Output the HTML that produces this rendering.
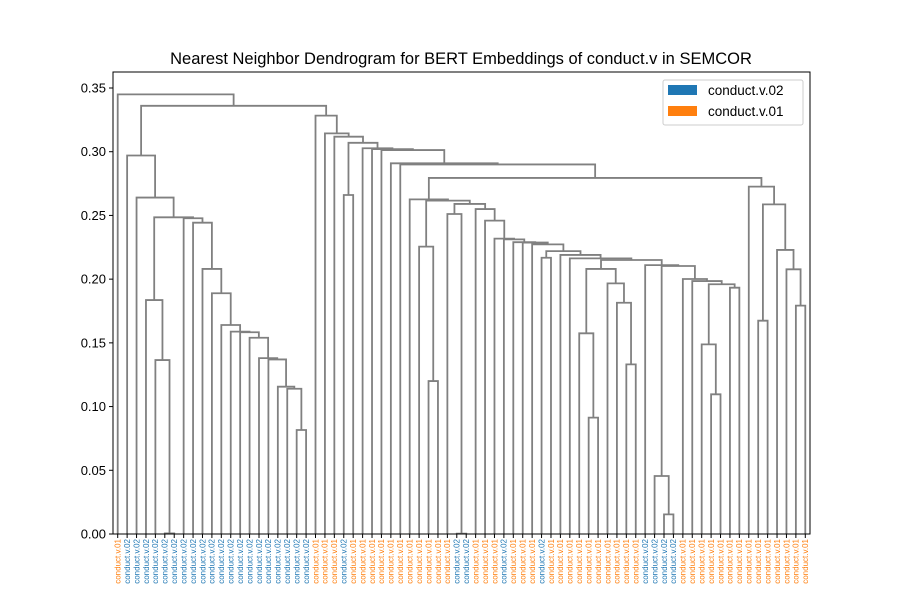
<!DOCTYPE html>
<html><head><meta charset="utf-8"><style>
html,body{margin:0;padding:0;background:#fff;}
svg{display:block;font-family:"Liberation Sans","DejaVu Sans",sans-serif;}
</style></head><body>
<svg id="chart" width="900" height="600" viewBox="0 0 900 600" xmlns="http://www.w3.org/2000/svg">
<rect x="0" y="0" width="900" height="600" fill="#fff"/>
<text x="461" y="64" text-anchor="middle" font-size="16.5" fill="#000">Nearest Neighbor Dendrogram for BERT Embeddings of conduct.v in SEMCOR</text>
<g id="links"></g>
<g id="yaxis"></g>
<g id="xlabels"></g>
<rect x="113" y="72" width="697" height="462" fill="none" stroke="#000" stroke-width="1"/>
<g>
<rect x="663" y="80" width="140" height="45" rx="2" fill="#fff" stroke="#ccc" stroke-width="1"/>
<g>
<rect x="668" y="85" width="29" height="10" fill="#1f77b4"/>
<text x="708" y="95" font-size="13.5" fill="#000">conduct.v.02</text></g>
<g>
<rect x="668" y="106" width="29" height="10" fill="#ff7f0e"/>
<text x="708" y="116" font-size="13.5" fill="#000">conduct.v.01</text></g>
</g>
</svg>
<script>
const senses = ["01","02","02","02","02","02","02","02","02","02","02","02","02","02","02","02","02","02","02","02","02",
"01","01","01","02","01","01","01","01","01","01","01","01","01","01","01","02","02","01","01","01","02",
"01","01","01","02","01","01","01","01","01","01","01","01","01","01","02","02","02","02",
"01","01","01","01","01","01","01","01","01","01","01","01","01","01"];
const yTicks = [0,0.05,0.10,0.15,0.20,0.25,0.30,0.35];
const links = [
["G",5,6,0.0005],["F",4,"G",0.1365],["E",3,"F",0.1836],
["T",19,20,0.0816],["S",18,"T",0.114],["R",17,"S",0.1156],["Q",16,"R",0.137],["P",15,"Q",0.138],
["O",14,"P",0.154],["N",13,"O",0.1583],["M",12,"N",0.1588],["L",11,"M",0.164],["K",10,"L",0.1889],
["J",9,"K",0.208],["I",8,"J",0.2443],["H",7,"I",0.2478],["D","E","H",0.2485],["C",2,"D",0.264],["B",1,"C",0.297],
["X1",24,25,0.266],["Y5",33,34,0.12],["Y3",32,"Y5",0.2255],["Y8",36,37,0.0003],["Y6",35,"Y8",0.2511],
["P1",50,51,0.0913],["P2",49,"P1",0.1575],["P3",54,55,0.1331],["P4",53,"P3",0.1815],["P5",52,"P4",0.1967],
["P6","P2","P5",0.208],["Q1",58,59,0.0154],["Q2",57,"Q1",0.0455],["R7",63,64,0.1096],["R5",62,"R7",0.1488],
["R6",65,66,0.1933],["R4","R5","R6",0.196],["R3",61,"R4",0.1985],["R2",60,"R3",0.2001],["RR","Q2","R2",0.2103],
["Q3",56,"RR",0.211],["S2","P6","Q3",0.215],["T2",48,"S2",0.2163],["A1",45,46,0.2168],["A2",47,"T2",0.219],
["A3","A1","A2",0.222],["A4",44,"A3",0.2273],["A5",43,"A4",0.2287],["A6",42,"A5",0.229],["A7",41,"A6",0.2312],
["Y10",40,"A7",0.2318],["Y9",39,"Y10",0.2459],["Y7",38,"Y9",0.255],["Y4","Y6","Y7",0.259],["Y2","Y3","Y4",0.2616],
["Y1",31,"Y2",0.2626],["W6",72,73,0.1792],["W5",71,"W6",0.2077],["W4",70,"W5",0.2229],["W3",68,69,0.1674],
["W2","W3","W4",0.2587],["W",67,"W2",0.2726],["Z10","Y1","W",0.2794],["Z9",30,"Z10",0.29],["Z8",29,"Z9",0.2909],
["Z7",28,"Z8",0.3013],["Z6",27,"Z7",0.302],["Z5",26,"Z6",0.3027],["Z4","X1","Z5",0.307],["Z3",23,"Z4",0.3118],
["Z2",22,"Z3",0.3144],["Z1",21,"Z2",0.3283],["A","B","Z1",0.336],["ROOT",0,"A",0.345]
];
const NS="http://www.w3.org/2000/svg";
const X0=113,X1=810,Y0=534,PXU=1274.3;
const n=senses.length;
function xScale(i){return X0+(5+10*i)*(X1-X0)/(10*n);}
function yScale(v){return Y0-v*PXU;}
const colorMap={"01":"#ff7f0e","02":"#1f77b4"};
const nodes={};
links.forEach(l=>{nodes[l[0]]={l:l[1],r:l[2],h:l[3]};});
function pos(c){
  if(typeof c==="number") return {x:xScale(c),h:0};
  const nd=nodes[c];
  if(nd.x===undefined){const a=pos(nd.l),b=pos(nd.r);nd.x=(a.x+b.x)/2;}
  return {x:nd.x,h:nd.h};
}
const gl=document.getElementById('links');
links.forEach(l=>{
  const a=pos(l[1]),b=pos(l[2]),h=l[3];
  const p=document.createElementNS(NS,'path');
  p.setAttribute('d',`M${a.x},${yScale(a.h)}V${yScale(h)}H${b.x}V${yScale(b.h)}`);
  p.setAttribute('fill','none');p.setAttribute('stroke','#808080');p.setAttribute('stroke-width','1.8');
  
  
  gl.appendChild(p);
});
const gy=document.getElementById('yaxis');
yTicks.forEach(t=>{
  const y=yScale(t);
  const ln=document.createElementNS(NS,'line');
  ln.setAttribute('x1',X0-4);ln.setAttribute('x2',X0);ln.setAttribute('y1',y);ln.setAttribute('y2',y);
  ln.setAttribute('stroke','#000');
  
  
  gy.appendChild(ln);
  const tx=document.createElementNS(NS,'text');
  tx.setAttribute('x',X0-7);tx.setAttribute('y',y+4.5);tx.setAttribute('text-anchor','end');tx.setAttribute('font-size','13');
  tx.textContent=t.toFixed(2);
  
  
  gy.appendChild(tx);
});
const gx=document.getElementById('xlabels');
senses.forEach((s,i)=>{
  const x=xScale(i);
  const ln=document.createElementNS(NS,'line');
  ln.setAttribute('x1',x);ln.setAttribute('x2',x);ln.setAttribute('y1',Y0);ln.setAttribute('y2',Y0+4);
  ln.setAttribute('stroke','#000');
  
  
  gx.appendChild(ln);
  const tx=document.createElementNS(NS,'text');
  tx.setAttribute('transform',`translate(${x+2.8},539) rotate(-90)`);
  tx.setAttribute('text-anchor','end');tx.setAttribute('font-size','8');tx.setAttribute('fill',colorMap[s]);
  tx.textContent='conduct.v.'+s;
  
  
  gx.appendChild(tx);
});
</script>
</body></html>
